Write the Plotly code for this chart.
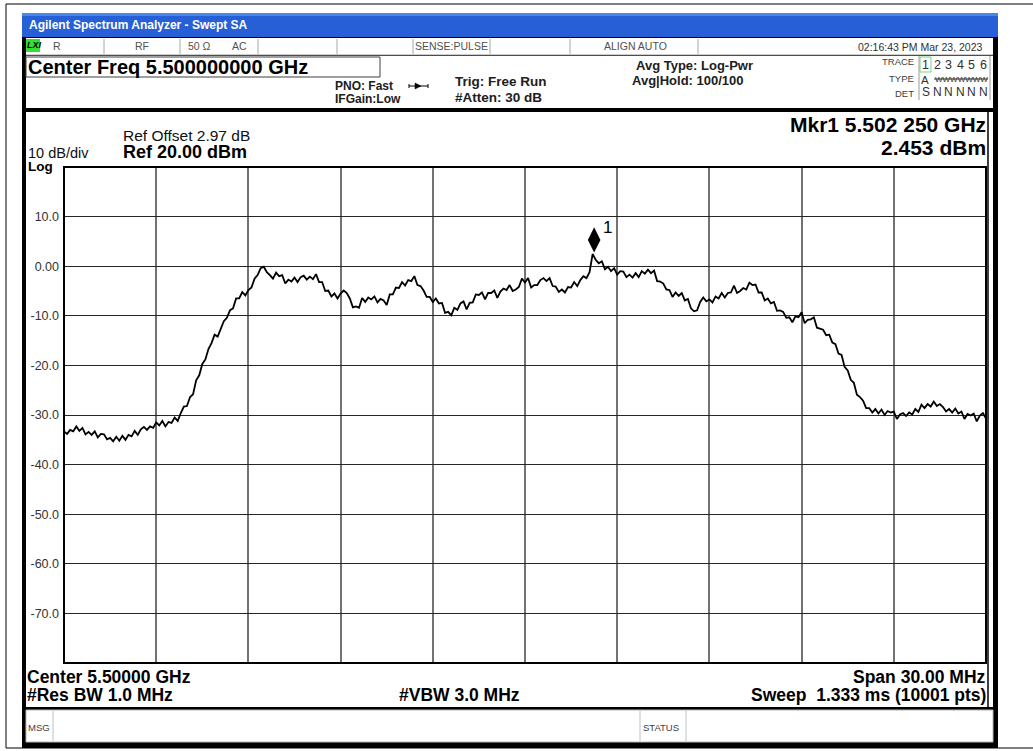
import numpy as np
import plotly.graph_objects as go

W, H = 1033, 751

# ---------------- data ----------------
center_mhz = 5500.0
span_mhz = 30.0
n_points = 301
level_dbm = [
    -33.3, -33.8, -33.0, -33.3, -32.3, -33.2, -32.6, -33.9, -33.4, -34.0,
    -33.3, -34.5, -33.8, -33.9, -34.9, -34.6, -35.3, -34.4, -35.2, -34.2,
    -35.0, -34.0, -34.3, -33.2, -34.0, -32.9, -32.4, -33.0, -32.3, -32.6,
    -31.5, -32.1, -31.2, -32.3, -31.4, -31.6, -30.5, -31.2, -29.6, -28.3,
    -28.2, -26.4, -25.8, -23.0, -22.0, -19.7, -18.8, -16.7, -15.5, -13.8,
    -14.2, -12.8, -11.1, -10.4, -8.9, -8.5, -6.5, -6.5, -5.2, -5.9,
    -4.8, -4.3, -2.5, -1.8, -0.4, -0.1, -1.2, -1.8, -2.5, -1.3,
    -2.0, -1.8, -3.5, -2.7, -3.1, -2.3, -3.2, -2.2, -1.9, -2.7,
    -2.1, -2.6, -1.6, -3.2, -3.2, -5.0, -4.9, -6.1, -5.5, -6.5,
    -5.5, -4.9, -5.4, -6.5, -8.3, -8.1, -8.4, -6.4, -7.2, -6.3,
    -6.7, -6.1, -7.3, -6.6, -6.9, -7.8, -5.7, -5.7, -4.3, -4.4,
    -3.2, -3.9, -2.8, -3.0, -2.0, -3.8, -4.0, -4.9, -6.2, -6.2,
    -7.2, -6.5, -7.5, -7.4, -9.4, -9.2, -9.9, -8.4, -8.8, -7.5,
    -7.1, -8.7, -7.4, -7.3, -5.7, -5.8, -5.3, -6.7, -5.4, -5.4,
    -4.9, -6.4, -5.1, -4.5, -4.8, -3.8, -5.0, -4.7, -4.2, -2.5,
    -3.3, -2.4, -4.3, -3.8, -3.8, -2.8, -2.4, -3.0, -2.4, -4.0,
    -4.1, -5.2, -4.7, -5.3, -4.2, -4.3, -3.2, -4.0, -2.8, -2.0,
    -2.4, -1.2, 2.453, 1.3, 0.6, 1.0, -0.6, -0.1, -1.0, -0.4,
    -1.7, -1.0, -1.1, -2.2, -1.7, -2.3, -1.4, -2.2, -1.0, -1.5,
    -0.7, -1.4, -0.9, -3.0, -3.1, -3.5, -4.7, -4.8, -6.2, -5.3,
    -6.0, -5.4, -6.9, -6.6, -8.5, -9.1, -8.9, -7.2, -6.3, -7.1,
    -6.7, -7.3, -6.1, -6.5, -5.4, -6.3, -5.4, -5.3, -3.9, -5.4,
    -5.0, -4.4, -4.7, -3.3, -3.8, -3.7, -5.3, -5.3, -6.9, -6.5,
    -7.5, -7.2, -9.0, -8.9, -9.2, -10.4, -10.3, -11.3, -10.1, -10.3,
    -9.3, -11.5, -10.8, -10.7, -10.3, -12.4, -12.6, -12.8, -13.9, -13.8,
    -15.4, -15.7, -17.6, -17.9, -20.3, -21.0, -22.9, -23.5, -25.9, -26.4,
    -27.1, -28.6, -28.6, -29.5, -28.8, -29.7, -28.9, -30.0, -29.2, -29.5,
    -29.3, -30.8, -29.9, -29.6, -30.2, -29.5, -29.9, -28.8, -29.4, -27.9,
    -28.6, -27.8, -28.3, -27.3, -28.2, -27.8, -28.4, -29.3, -28.8, -29.5,
    -28.7, -29.7, -29.3, -30.8, -29.8, -30.1, -29.7, -31.3, -30.1, -29.6,
    -30.7,
]
ref_level_dbm = 20.0
db_per_div = 10.0
n_div = 10
y_tick_vals = [10, 0, -10, -20, -30, -40, -50, -60, -70]
y_tick_text = ["10.0", "0.00", "-10.0", "-20.0", "-30.0", "-40.0", "-50.0", "-60.0", "-70.0"]
marker_freq_mhz = 5502.25
marker_level_dbm = 2.453
trace_numbers = ["1", "2", "3", "4", "5", "6"]
det_types = ["S", "N", "N", "N", "N", "N"]
status_cells = ["R", "RF", "50 \u03a9", "AC", "SENSE:PULSE", "ALIGN AUTO"]

freq_mhz = np.linspace(center_mhz - span_mhz / 2, center_mhz + span_mhz / 2, n_points)

# ---------------- helpers ----------------
FONT = "Liberation Sans, Arial, sans-serif"
shapes, ann = [], []


def px(x):
    return x / W


def py(y):
    return 1 - y / H


def rect(x0, y0, x1, y1, fill=None, line=None, lw=1, layer="below"):
    shapes.append(dict(type="rect", xref="paper", yref="paper",
                       x0=px(x0), x1=px(x1), y0=py(y1), y1=py(y0), layer=layer,
                       fillcolor=fill if fill else "rgba(0,0,0,0)",
                       line=dict(color=line if line else "rgba(0,0,0,0)", width=lw if line else 0)))


def seg(x0, y0, x1, y1, color="#000", lw=1, layer="below"):
    shapes.append(dict(type="line", xref="paper", yref="paper",
                       x0=px(x0), y0=py(y0), x1=px(x1), y1=py(y1), layer=layer,
                       line=dict(color=color, width=lw)))


def txt(x, y, s, size, bold=False, color="#000", anchor="left"):
    if bold:
        s = "<b>" + s + "</b>"
    ann.append(dict(x=px(x), y=py(y), xref="paper", yref="paper", text=s, showarrow=False,
                    xanchor=anchor, yanchor="middle", borderpad=0, borderwidth=0,
                    font=dict(family=FONT, size=size, color=color)))


# ---------------- window chrome ----------------
rect(6, 4, 1045, 748, line="#000", lw=1)
rect(22, 13, 998, 748, fill="#000")
rect(22, 13, 998, 37, fill="#2760d6")
rect(22, 13, 998, 16, fill="#4b86ea")
txt(29, 25, "Agilent Spectrum Analyzer - Swept SA", 12, bold=True, color="#ffffff")

# status row
rect(26, 38, 993, 55, fill="#ffffff")
seg(26, 55, 993, 55, "#9a9a9a")
for xs in [104, 180, 258, 337, 413, 490, 570, 698]:
    seg(xs, 39, xs, 54, "#a8a8a8")
rect(26, 39, 40, 52, fill="#2fe02f")
txt(26.5, 45.5, "<i>LXI</i>", 9, bold=True)
sc = "#505050"
txt(53, 46.5, status_cells[0], 10.5, color=sc)
txt(142, 46.5, status_cells[1], 10.5, color=sc, anchor="center")
txt(188, 46.5, status_cells[2], 10.5, color=sc)
txt(232, 46.5, status_cells[3], 10.5, color=sc)
txt(415, 46.5, status_cells[4], 10.5, color=sc)
txt(635, 46.5, status_cells[5], 10.5, color=sc, anchor="center")
txt(982, 47.5, "02:16:43 PM Mar 23, 2023", 10.5, color="#303030", anchor="right")

# header
rect(26, 56, 993, 108, fill="#ffffff")
rect(26, 57, 380, 77, line="#404040", lw=1)
txt(28, 67, "Center Freq 5.500000000 GHz", 20, bold=True)
txt(335, 86, "PNO: Fast", 12, bold=True, color="#202020")
txt(335, 99, "IFGain:Low", 12, bold=True, color="#202020")
seg(409, 86, 428, 86, "#000", 1)
shapes.append(dict(type="path", xref="paper", yref="paper", layer="below",
                   path="M {},{} L {},{} L {},{} Z".format(px(415), py(83), px(421), py(86), px(415), py(89)),
                   fillcolor="#000", line=dict(color="#000", width=0.5)))
seg(409, 84, 409, 88, "#000", 1)
seg(428, 84, 428, 88, "#000", 1)
txt(455, 81, "Trig: Free Run", 13.5, bold=True, color="#202020")
txt(455, 97, "#Atten: 30 dB", 13.5, bold=True, color="#202020")
txt(636, 65, "Avg Type: Log-Pwr", 13, bold=True, color="#202020")
txt(632, 80, "Avg|Hold: 100/100", 13, bold=True, color="#202020")

# trace table
seg(919, 56, 919, 100, "#9a9a9a")
seg(990, 56, 990, 100, "#9a9a9a")
txt(914, 62, "TRACE", 9.5, color="#404040", anchor="right")
txt(914, 79, "TYPE", 9.5, color="#404040", anchor="right")
txt(914, 93, "DET", 9.5, color="#404040", anchor="right")
rect(920, 57, 931, 72, line="#7fd27f", lw=1)
trace_x = [925.5, 937, 948.5, 960, 971.5, 983]
for xt, num, det in zip(trace_x, trace_numbers, det_types):
    txt(xt, 65, num, 12.5, color="#303030", anchor="center")
    txt(xt, 91.5, det, 12, color="#303030", anchor="center")
txt(925, 79.5, "A", 11.5, color="#303030", anchor="center")
txt(961, 79.5, "WWWWWWW", 8, color="#303030", anchor="center")
seg(934, 79, 988, 79, "#303030", 1)

# separator & main panel
rect(26, 112, 993, 707, fill="#ffffff")
rect(26, 710, 993, 742, fill="#ffffff", line="#b8b8b8", lw=1)
seg(53, 711, 53, 741, "#c0c0c0")
seg(640, 711, 640, 741, "#c0c0c0")
seg(686, 711, 686, 741, "#c0c0c0")
txt(28, 727, "MSG", 9.5, color="#404040")
txt(643, 727, "STATUS", 9.5, color="#404040")
seg(988, 112, 988, 707, "#000", 1.5)

txt(123, 135, "Ref Offset 2.97 dB", 15.5, color="#101010")
txt(123, 152, "Ref 20.00 dBm", 18, bold=True)
txt(28, 153, "10 dB/div", 14.5, color="#101010")
txt(28, 166, "Log", 13.5, bold=True)
txt(986, 124, "Mkr1 5.502 250 GHz", 21, bold=True, anchor="right")
txt(986, 147, "2.453 dBm", 21, bold=True, anchor="right")

txt(27, 677, "Center 5.50000 GHz", 17.5, bold=True)
txt(27, 695, "#Res BW 1.0 MHz", 17.5, bold=True)
txt(459, 695, "#VBW 3.0 MHz", 17.5, bold=True, anchor="center")
txt(986, 677, "Span 30.00 MHz", 17.5, bold=True, anchor="right")
txt(986, 695, "Sweep  1.333 ms (10001 pts)", 17.5, bold=True, anchor="right")

# graticule border (on top)
rect(64, 167, 986, 663, line="#000", lw=2, layer="above")

# marker label
ann.append(dict(x=marker_freq_mhz, y=marker_level_dbm, xref="x", yref="y", text="1",
                showarrow=False, xshift=13, yshift=27, font=dict(family=FONT, size=17, color="#000")))

MARKER_LIFT_DB = 2.85

fig = go.Figure()
fig.add_trace(go.Scatter(x=freq_mhz, y=level_dbm, mode="lines",
                         line=dict(color="#000000", width=1.8), hoverinfo="skip", showlegend=False))
fig.add_trace(go.Scatter(x=[marker_freq_mhz], y=[marker_level_dbm + MARKER_LIFT_DB], mode="markers",
                         marker=dict(symbol="diamond-tall", size=18, color="#000000"),
                         hoverinfo="skip", showlegend=False))

x0 = center_mhz - span_mhz / 2
fig.update_layout(
    width=W, height=H, autosize=False,
    margin=dict(l=0, r=0, t=0, b=0),
    paper_bgcolor="#ffffff", plot_bgcolor="rgba(0,0,0,0)",
    shapes=shapes, annotations=ann, showlegend=False,
    xaxis=dict(domain=[px(64), px(986)], range=[x0, x0 + span_mhz], tick0=x0, dtick=span_mhz / n_div,
               showgrid=True, gridcolor="#727272", gridwidth=1.6, zeroline=False, showline=False,
               showticklabels=False, ticks="", fixedrange=True),
    yaxis=dict(domain=[py(663), py(167)], range=[ref_level_dbm - n_div * db_per_div, ref_level_dbm],
               tickvals=y_tick_vals, ticktext=y_tick_text, ticks="", ticklabelstandoff=4,
               tickfont=dict(family=FONT, size=12.5, color="#333333"),
               showgrid=True, gridcolor="#262626", gridwidth=1.2, zeroline=False, showline=False,
               fixedrange=True),
)

fig.write_html("out.html", config={"displayModeBar": False},
               post_script="document.body.style.margin='0';document.body.style.overflow='hidden';")
